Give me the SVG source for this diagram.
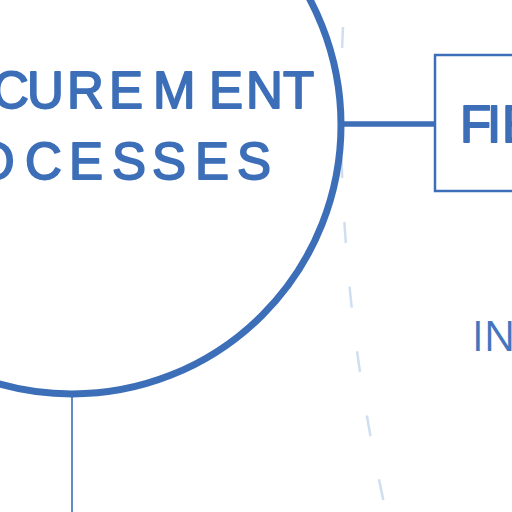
<svg xmlns="http://www.w3.org/2000/svg" width="512" height="512" viewBox="0 0 512 512">
  <style>
    .hand { font-family: "Liberation Sans", "DejaVu Sans", sans-serif; font-size: 51px; fill: #3d6fb8; stroke: #3d6fb8; stroke-width: 1.8px; stroke-linejoin: round; }
    .thin { font-family: "Open Sans", "Noto Sans", sans-serif; font-size: 42px; fill: #4476c0; }
    .blue { stroke: #3d6fb8; fill: none; }
  </style>
  <rect width="512" height="512" fill="#ffffff"/>
  <g id="connectors">
    <path d="M343,27 Q331.5,270.5 386,512" fill="none" stroke="#cfdff0" stroke-width="2.5" stroke-dasharray="21 44"/>
    <line class="blue" x1="341" y1="124" x2="435" y2="124" stroke-width="5.5"/>
    <line class="blue" x1="72" y1="397" x2="72" y2="512" stroke-width="1.6"/>
  </g>
  <g id="node-procurement">
    <circle class="blue" cx="72" cy="125" r="269" stroke-width="7"/>
    <text class="hand" y="108" x="-140 -98 -56 -8 27 67 109 153 209 246 283">PROCUREMENT</text>
    <text class="hand" y="179" x="-112 -68 -25 25 69 112 152 195 237">PROCESSES</text>
  </g>
  <g id="node-fi">
    <rect class="blue" x="435" y="55" width="120" height="136" stroke-width="2.5"/>
    <text class="hand" y="142" x="460 487 502">FIE</text>
  </g>
  <g id="label-in">
    <text class="thin" x="472" y="351">IN</text>
  </g>
</svg>
